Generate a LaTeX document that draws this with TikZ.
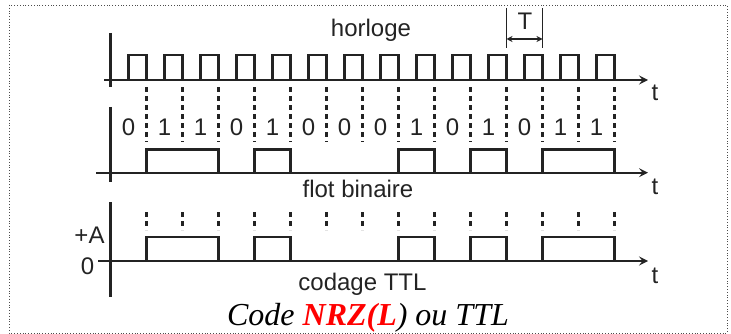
\documentclass[tikz,border=0pt]{standalone}
\usepackage{fontspec}
\setmainfont{Liberation Serif}
\newfontfamily\sigfont{Liberation Sans}
\usetikzlibrary{arrows.meta}
\definecolor{ink}{RGB}{35,35,35}
\definecolor{capred}{RGB}{255,0,0}
\begin{document}
\begin{tikzpicture}[x=1pt,y=-1pt,
  sig/.style={line width=2.1pt, draw=ink, line join=miter},
  axis/.style={sig, -{Stealth[length=9pt,width=9pt,inset=3.5pt]}},
  tick/.style={line width=2.1pt, draw=ink, dash pattern=on 5pt off 4pt},
  lab/.style={inner sep=0pt, outer sep=0pt, text=ink, font=\sigfont\fontsize{24}{28}\selectfont, anchor=base}]
\useasboundingbox (0,0) rectangle (731,334);
\draw[dotted, line width=0.8pt, black!70] (9,5) rectangle (727,333);

% ---------- panel 1 : horloge ----------
\draw[sig] (110.5,33) -- (110.5,87.5);
\draw[axis] (104,80) -- (648,80);
\foreach \k in {0,...,13}
  \draw[sig] ({128.5+36*\k},80) |- ({146.5+36*\k},55) -- ({146.5+36*\k},80);
\node[lab] (hor) at (371,37) {horloge};
\node[lab] (t1) at (655,101) {t};
% period marker
\coordinate (pa) at (506.5,39);
\coordinate (pb) at (542.5,39);
\draw[line width=1.7pt, ink] (506.5,8) -- (506.5,48);
\draw[line width=1.7pt, ink] (542.5,8) -- (542.5,48);
\draw[line width=1.4pt, ink, {Stealth[length=6pt,width=6pt,inset=2pt]}-{Stealth[length=6pt,width=6pt,inset=2pt]}] (pa) -- (pb);
\node[lab] (T) at (525,29.5) {T};

% ---------- panel 2 : flot binaire ----------
\foreach \k in {0,...,13}
  \draw[tick] ({146.5+36*\k},87.5) -- ({146.5+36*\k},142);
\foreach \b [count=\i from 0] in {0,1,1,0,1,0,0,0,1,0,1,0,1,1}
  \node[lab] (b\i) at ({128.5+36*\i},135.5) {\b};
\draw[sig] (110.5,107) -- (110.5,182);
\draw[axis] (96,172.7) -- (648,172.7);
\foreach \a/\e in {146.5/218.5,254.5/290.5,398.5/434.5,470.5/506.5,542.5/614.5}
  \draw[sig] (\a,172.7) |- (\e,149.5) -- (\e,172.7);
\node[lab] (flot) at (358,197) {flot binaire};
\node[lab] (t2) at (655,194.5) {t};

% ---------- panel 3 : codage TTL ----------
\foreach \k in {0,...,13}
  \draw[tick] ({146.5+36*\k},212) -- ({146.5+36*\k},230);
\draw[sig] (110.5,202) -- (110.5,297);
\draw[axis] (98,261) -- (648,261);
\foreach \a/\e in {146.5/218.5,254.5/290.5,398.5/434.5,470.5/506.5,542.5/614.5}
  \draw[sig] (\a,261) |- (\e,237) -- (\e,261);
\node[lab] (pA) at (89.5,243.5) {+A};
\node[lab] (z) at (87.5,274) {0};
\node[lab] (cod) at (362.5,290) {codage TTL};
\node[lab] (t3) at (655,283) {t};

% ---------- caption ----------
\node[inner sep=0pt, anchor=base, font=\fontsize{32}{36}\selectfont\itshape] (cap) at (368,325)
  {Code \textcolor{capred}{\textbf{NRZ(L}}) ou TTL};
\end{tikzpicture}
\end{document}
